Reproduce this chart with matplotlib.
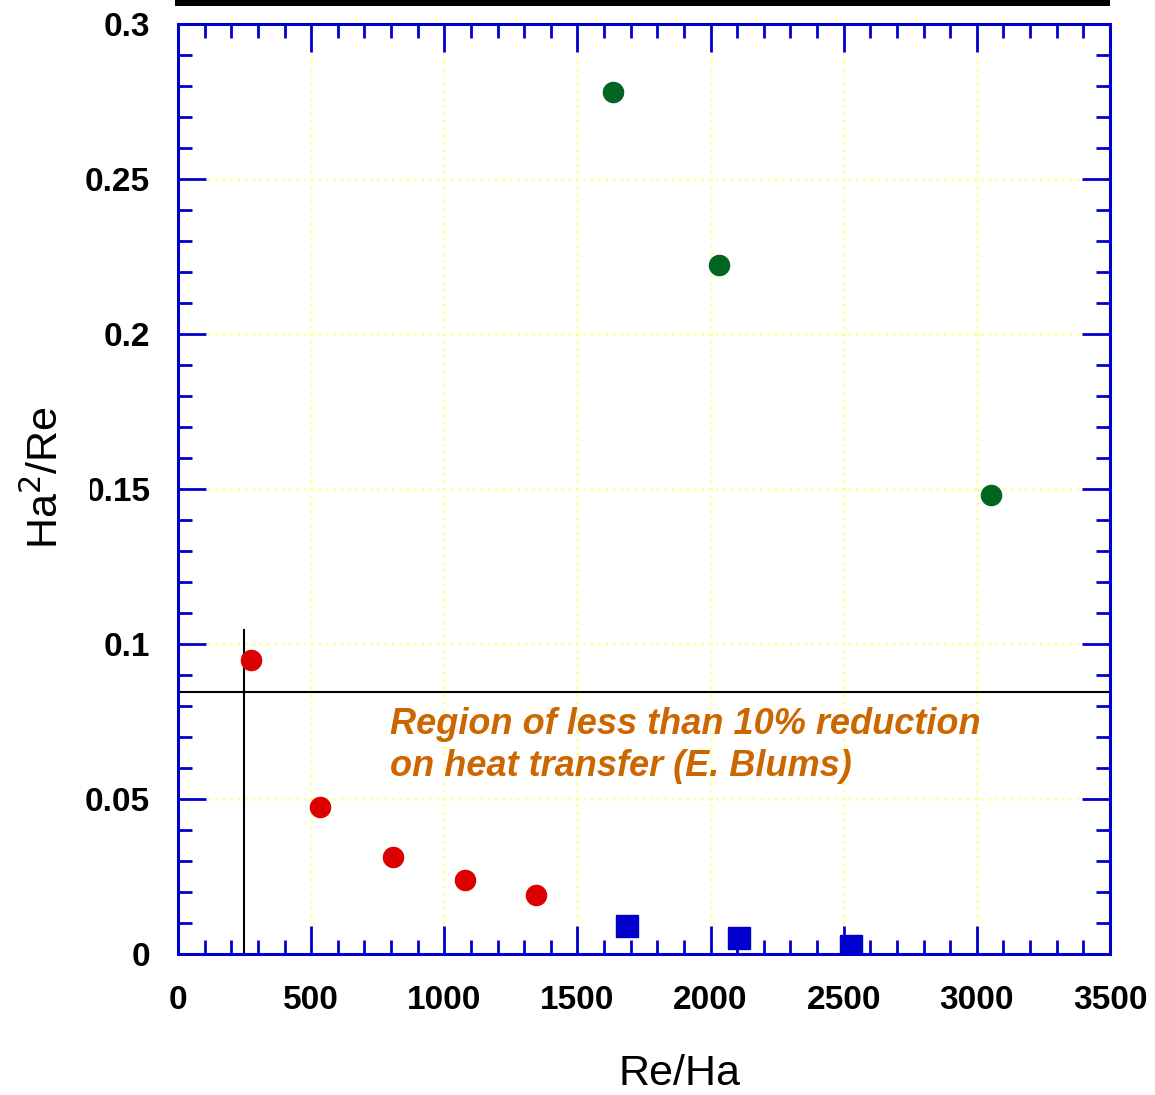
import matplotlib
matplotlib.use("Agg")
import matplotlib.pyplot as plt
from matplotlib.ticker import MultipleLocator, FuncFormatter
from matplotlib.patches import Rectangle

plt.rcParams['font.family'] = ['Liberation Sans', 'DejaVu Sans']

red_x = [274, 533, 807, 1078, 1344]
red_y = [0.0948, 0.0474, 0.0313, 0.0239, 0.0190]
green_x = [1634, 2031, 3053]
green_y = [0.278, 0.2223, 0.148]
blue_x = [1686, 2107, 2527]
blue_y = [0.0090, 0.0052, 0.0026]
hline_y = 0.0845
vline_x = 248
vline_top = 0.1045

W, H = 1155, 1095
fig = plt.figure(figsize=(W/100, H/100), dpi=100)
ax = fig.add_axes([178/W, 1-954/H, 932/W, 930/H])

ax.set_xlim(0, 3500)
ax.set_ylim(0, 0.3)
ax.xaxis.set_major_locator(MultipleLocator(500))
ax.xaxis.set_minor_locator(MultipleLocator(100))
ax.yaxis.set_major_locator(MultipleLocator(0.05))
ax.yaxis.set_minor_locator(MultipleLocator(0.01))

ax.grid(True, which='major', color='#ffff99', linestyle=':', linewidth=2)
ax.set_axisbelow(True)

blue = '#0000cc'
for s in ax.spines.values():
    s.set_color(blue)
    s.set_linewidth(2.2)
ax.tick_params(which='both', direction='in', top=True, right=True, color=blue, width=2)
ax.tick_params(which='major', length=20)
ax.tick_params(which='minor', length=10)
ax.tick_params(axis='x', which='major', labelsize=24, pad=22)
ax.tick_params(axis='y', which='major', labelsize=24, pad=20)
ax.xaxis.set_major_formatter(FuncFormatter(lambda v, p: f"{int(round(v))}"))
ax.yaxis.set_major_formatter(FuncFormatter(lambda v, p: ("0" if abs(v) < 1e-9 else f"{v:g}")))
for lab in ax.get_xticklabels() + ax.get_yticklabels():
    lab.set_fontweight('bold')

ax.axhline(hline_y, color='black', linewidth=1.5)
ax.plot([vline_x, vline_x], [0, vline_top], color='black', linewidth=1.5)

ax.plot(red_x, red_y, 'o', color='#dd0000', markersize=14.5, linestyle='none')
ax.plot(green_x, green_y, 'o', color='#006622', markersize=14.5, linestyle='none')
ax.plot(blue_x, blue_y, 's', color=blue, markersize=16, linestyle='none')

ax.text(796, 0.0797, "Region of less than 10% reduction\non heat transfer (E. Blums)",
        color='#cc6600', fontsize=26, fontweight='bold', fontstyle='italic',
        va='top', ha='left', linespacing=1.25)

fig.text(680/W, 1-1074/H, "Re/Ha", fontsize=31, ha='center', va='center')

# white box behind the y label (it covers the edge of a tick label, as in the reference)
fig.add_artist(Rectangle((10/W, 1-610/H), 80/W, 240/H, transform=fig.transFigure,
                         facecolor='white', edgecolor='none', zorder=5))
fig.text(46/W, 1-478/H, "Ha$^2$/Re", fontsize=31, rotation=90, ha='center', va='center', zorder=6)

fig.add_artist(Rectangle((175/W, 1-6/H), 935/W, 6/H, transform=fig.transFigure,
                         facecolor='black', edgecolor='none'))

fig.savefig("out.png", dpi=100)
